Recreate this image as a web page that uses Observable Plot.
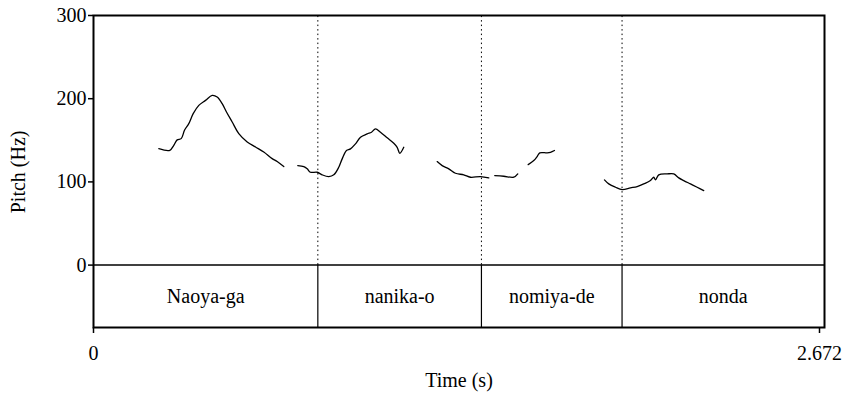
<!DOCTYPE html>
<html>
<head>
<meta charset="utf-8">
<script src="https://cdn.jsdelivr.net/npm/d3@7"></script>
<script src="https://cdn.jsdelivr.net/npm/@observablehq/plot@0.6"></script>
<style>
  html, body { margin: 0; padding: 0; background: #fff; }
  #chart svg { display: block; }
</style>
</head>
<body>
<div id="chart"></div>
<script>
// Pitch contour segments (time in s, pitch in Hz)
const segA_t = [0.2387,0.2789,0.2935,0.3059,0.3205,0.3326,0.3483,0.3644,0.3849,0.4094,0.4338,0.4521,0.4704,0.4861,0.5069,0.5311,0.5618,0.5921,0.6224,0.6531,0.6714,0.6955];
const segA_f = [140,138,144,150.5,152,162,170,182,192,198,204,202,194,184,172,158,148,142,136,128,124.5,118.5];
const segB_t = [0.7467,0.7686,0.7811,0.7931,0.8176,0.8359,0.8600,0.8783,0.8965,0.9090,0.9247,0.9393,0.9576,0.9759,1.0004,1.0161,1.0307,1.0490,1.0735,1.0976,1.1100,1.1195,1.1341];
const segB_f = [119.6,118.4,115.7,111.6,111.6,108.5,106.4,108.5,117.6,127.7,137.7,139.7,145.7,153.7,157.7,159.7,163.7,159.7,153,146.5,141.6,134.4,141.6];
const segC1_t = [1.2562,1.2745,1.2986,1.3231,1.3534,1.3779,1.4145,1.4448];
const segC1_f = [124.4,119.6,115.7,110.4,108.5,105.6,106.4,104.8];
const segC2_t = [1.4667,1.4996,1.5362,1.5508];
const segC2_f = [107.6,106.8,105.6,109.6];
const segC3_t = [1.5888,1.6093,1.6217,1.6312,1.6583,1.6703,1.6849];
const segC3_f = [120.8,125.6,130.5,134.9,134.9,135.6,137.7];
const segD_t = [1.8677,1.8834,1.9079,1.9324,1.9627,1.9872,2.0113,2.0358,2.0479,2.0541,2.0661,2.0968,2.1210,2.1393,2.1575,2.1820,2.2065,2.2306];
const segD_f = [102.4,97.6,93.6,90.8,92.8,94.4,97.6,101.6,105.6,102.4,108.5,109.6,109.6,104.8,101.6,97.6,93.6,89.6];

// TextGrid tier
const words = ["Naoya-ga", "nanika-o", "nomiya-de", "nonda"];
const wordStarts = [0, 0.820, 1.418, 1.932];
const wordEnds = [0.820, 1.418, 1.932, 2.672];
const boundaries = [0.820, 1.418, 1.932];

const yTicks = [0, 100, 200, 300];
const xMax = 2.672;

const segs = [
  ["A", segA_t, segA_f], ["B", segB_t, segB_f], ["C1", segC1_t, segC1_f],
  ["C2", segC2_t, segC2_f], ["C3", segC3_t, segC3_f], ["D", segD_t, segD_f]
];
const pitch = segs.flatMap(([id, ts, fs]) => ts.map((t, i) => ({seg: id, t, f: fs[i]})));
const tier = words.map((w, i) => ({w, mid: (wordStarts[i] + wordEnds[i]) / 2}));

const font = "'Liberation Serif', 'Times New Roman', Times, serif";

const chart = Plot.plot({
  width: 847,
  height: 394,
  marginLeft: 93,
  marginRight: 23,
  marginTop: 15,
  marginBottom: 67,
  style: {fontFamily: font, fontSize: "20px", background: "#fff", color: "#000"},
  x: {domain: [0, xMax]},
  y: {domain: [-75, 300]},
  marks: [
    Plot.ruleX(boundaries, {y1: 0, y2: 300, stroke: "#000", strokeWidth: 1, strokeDasharray: "1.5,3"}),
    Plot.ruleX(boundaries, {y1: -75, y2: 0, stroke: "#000", strokeWidth: 1.2}),
    Plot.ruleY([0], {stroke: "#000", strokeWidth: 1.5}),
    Plot.line(pitch, {x: "t", y: "f", z: "seg", stroke: "#000", strokeWidth: 1.3, curve: "catmull-rom"}),
    Plot.text(tier, {x: "mid", y: -37.5, text: "w", fontSize: 20, fill: "#000"}),
    Plot.frame({stroke: "#000", strokeWidth: 2}),
    Plot.axisY(yTicks, {tickSize: 5, tickPadding: 2, fontSize: 20, label: null, strokeWidth: 1.5}),
    Plot.axisX([0], {tickSize: 6, tickPadding: 12, fontSize: 20, label: null, tickFormat: d => String(d), strokeWidth: 1.5}),
    Plot.axisX([xMax], {tickSize: 6, tickPadding: 12, fontSize: 20, label: null, tickFormat: d => String(d), dx: -5, strokeWidth: 1.5}),
    Plot.text(["Time (s)"], {frameAnchor: "bottom", dy: 59, fontSize: 20, fill: "#000"}),
    Plot.text(["Pitch (Hz)"], {x: 0, y: 112, rotate: -90, dx: -75, fontSize: 20, fill: "#000"})
  ]
});
document.getElementById("chart").appendChild(chart);
</script>
</body>
</html>
